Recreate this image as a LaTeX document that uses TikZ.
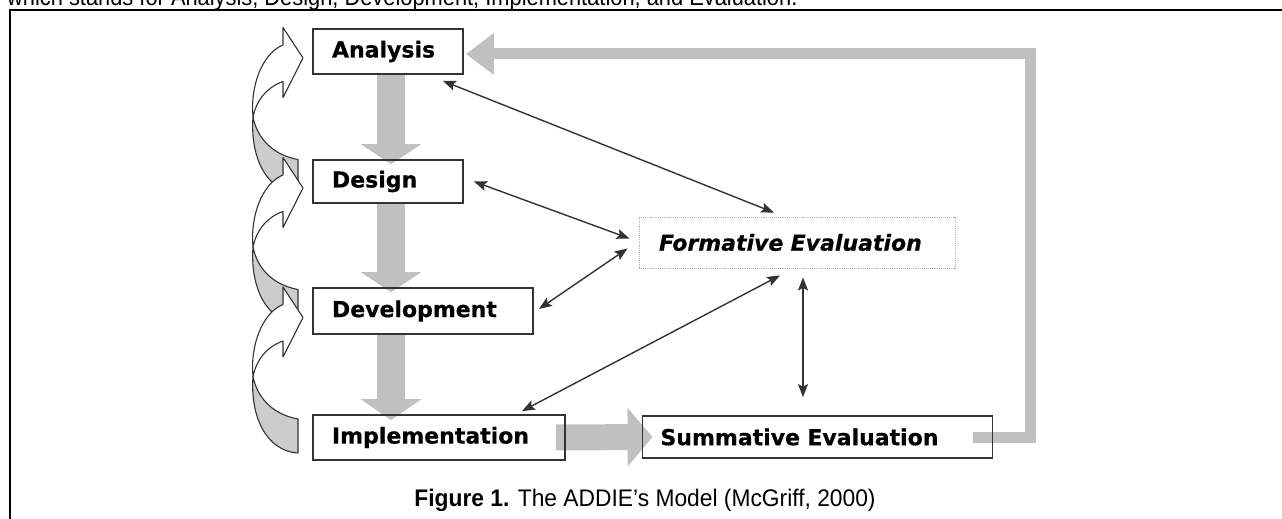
\documentclass[tikz,border=0pt]{standalone}
\usepackage{fontspec}
\setmainfont{Liberation Sans}
\newfontfamily\heavyfont[FakeBold=0.5]{DejaVu Sans Bold}
\newfontfamily\heavyit[FakeBold=0.5]{DejaVu Sans Bold Oblique}
\usetikzlibrary{arrows.meta,calc,backgrounds}
\definecolor{arrowgray}{HTML}{C0C0C0}
\definecolor{ribgray}{HTML}{CCCCCC}
\definecolor{edgec}{HTML}{333333}
\newcommand\ribtail[1]{%
  \begin{scope}[shift={(0,#1)}]
    \filldraw[fill=ribgray, draw=edgec, line width=1.1pt, line join=round]
      (253,65.5) .. controls (250,105) and (266,140) .. (298,142)
      -- (298,108) .. controls (276,104) and (258,90) .. (253,65.5) -- cycle;
  \end{scope}}
\newcommand\ribhead[1]{%
  \begin{scope}[shift={(0,#1)}]
    \filldraw[fill=white, draw=edgec, line width=1.1pt, line join=round]
      (283,-6.5) -- (283,-24) -- (303,6.5) -- (283,46) -- (283,30)
      .. controls (266,36) and (256,50) .. (253,65.5)
      .. controls (250,35) and (262,2) .. (283,-6.5) -- cycle;
  \end{scope}}
\begin{document}
\begin{tikzpicture}[x=1pt,y=-1pt,
  box/.style={draw=edgec, line width=1.8pt, rectangle, inner xsep=19pt, inner ysep=0pt,
    align=left, font=\heavyfont\fontsize{22}{24}\selectfont},
  fbox/.style={draw=black!30, line width=0.9pt, densely dotted, rectangle, inner xsep=20pt,
    inner ysep=0pt, align=left, font=\heavyit\fontsize{22}{24}\selectfont},
  bigarrow/.style={draw=arrowgray, line width=#1},
  thin/.style={draw=edgec, line width=1.4pt,
    {Stealth[length=13pt,width=10pt,inset=2.5pt]}-{Stealth[length=13pt,width=10pt,inset=2.5pt]}},
  captionfont/.style={font=\fontsize{24}{28}\selectfont}
]
\useasboundingbox (0,0) rectangle (1282,519);

% top cut-off text
\begin{scope}
  \clip (0,0) rectangle (1282,519);
  \node[anchor=base west, inner sep=0pt, captionfont, xscale=0.91, transform shape] (toptext) at (7,5.5)
    {which stands for Analysis, Design, Development, Implementation, and Evaluation.};
\end{scope}

% frame
\draw[line width=2.6pt, line join=miter] (10,519) -- (10,10) -- (1282,10);

% boxes
\node[box, text width=112pt, minimum height=45pt] (A) at (388,51.5) {Analysis};
\node[box, text width=112pt, minimum height=43pt] (D) at (388,181.5) {Design};
\node[box, text width=182pt, minimum height=46pt] (V) at (423,311) {Development};
\node[box, text width=214pt, minimum height=45pt] (I) at (439,437.5) {Implementation};
\node[box, text width=314pt, minimum height=42pt, inner xsep=18pt] (S) at (817.5,437) {Summative Evaluation};
\node[fbox, text width=276pt, minimum height=51pt] (F) at (797,242.5) {Formative Evaluation};

\coordinate (sx) at (391,0);
\coordinate (fb) at (1030,0);

\begin{pgfonlayer}{background}
  % vertical gray arrows
  \draw[bigarrow=28pt, -{Triangle[length=20pt,width=60pt]}]
    (A.south -| sx) -- ([yshift=-5pt]D.north -| sx);
  \draw[bigarrow=28pt, -{Triangle[length=20pt,width=60pt]}]
    (D.south -| sx) -- ([yshift=-5pt]V.north -| sx);
  \draw[bigarrow=28pt, -{Triangle[length=21pt,width=60pt]}]
    (V.south -| sx) -- ([yshift=-6pt]I.north -| sx);
  % implementation -> summative
  \draw[bigarrow=26pt, -{Triangle[length=25pt,width=57pt]}]
    ([xshift=-10pt]I.east) -- ([xshift=11pt]S.west);
  % feedback summative -> analysis
  \draw[bigarrow=11pt, line join=miter, -{Triangle[length=28pt,width=40pt]}]
    ([xshift=-20pt]S.east) -| ([yshift=-2.5pt]A.east -| fb) -- ([yshift=-2.5pt,xshift=2pt]A.east);
\end{pgfonlayer}

% thin double arrows
\draw[thin] ([shift={(-21,6)}]A.south east) -- ([shift={(-23,-4)}]F.north);
\draw[thin] ([shift={(10,0)}]D.east) -- ([shift={(-9,-4)}]F.west);
\draw[thin] ([shift={(5,-2)}]V.east) -- ([shift={(-11,6)}]F.west);
\draw[thin] ([shift={(83,-3)}]I.north) -- ([shift={(-17,7)}]F.south);
\draw[thin] ([shift={(6,9)}]F.south) -- ([shift={(-14.5,-18)}]S.north);

% curved ribbon arrows on the left
\ribtail{51.5}
\ribtail{181.5}
\ribtail{311}
\ribhead{51.5}
\ribhead{181.5}
\ribhead{311}

% caption
\node[anchor=base, inner sep=0pt, captionfont, xscale=0.95, transform shape] (cap) at (645,506)
  {\textbf{Figure 1.} The ADDIE’s Model (McGriff, 2000)};
\end{tikzpicture}
\end{document}
